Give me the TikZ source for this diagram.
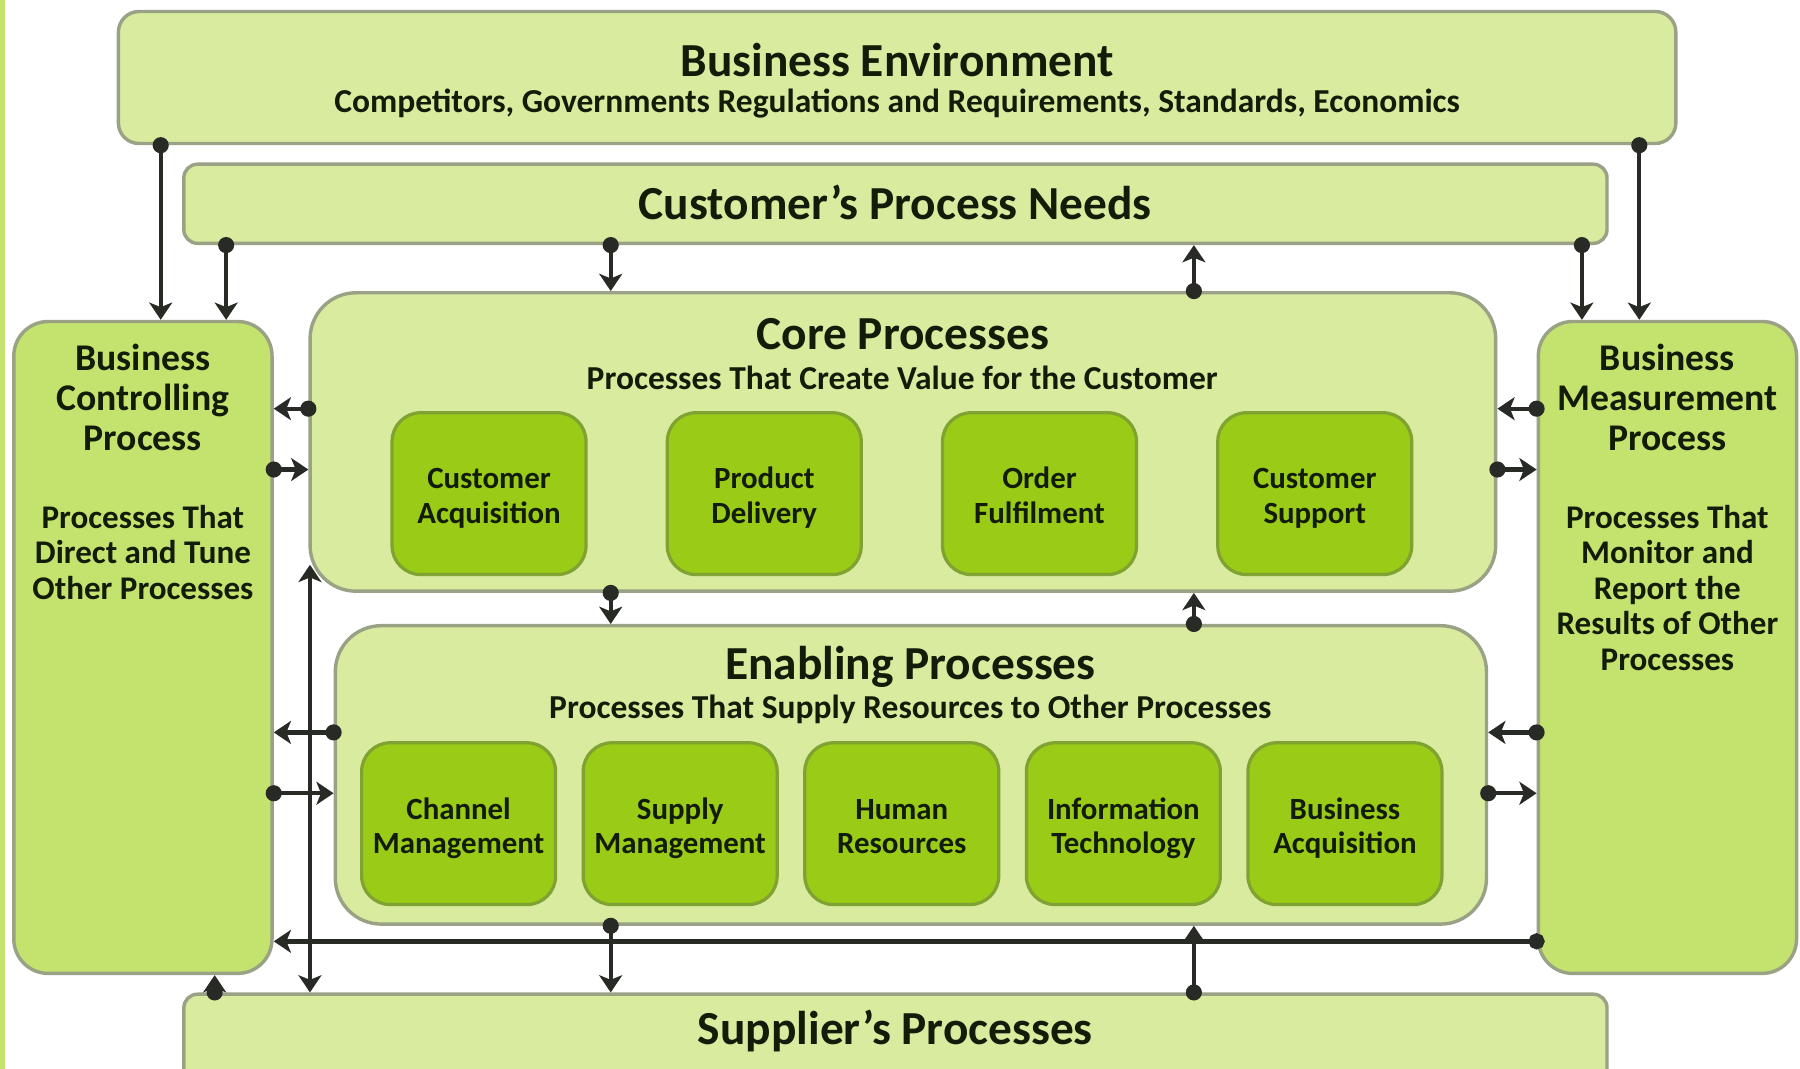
\documentclass[tikz,border=0pt]{standalone}
\usepackage{fontspec}
\setmainfont{Carlito}
\usepackage{tikz}
\usetikzlibrary{positioning,arrows.meta}
\definecolor{lightleaf}{RGB}{216,235,158}
\definecolor{sideleaf}{RGB}{196,227,110}
\definecolor{darkleaf}{RGB}{154,203,22}
\definecolor{leafrim}{RGB}{128,162,50}
\definecolor{greyrim}{RGB}{154,162,134}
\definecolor{wire}{RGB}{40,42,38}
\definecolor{ink}{RGB}{18,28,8}
\newcommand{\headfont}{\fontsize{23.5}{26}\selectfont\bfseries}
\newcommand{\subheadfont}{\fontsize{16.6}{18}\selectfont\bfseries}
\newcommand{\sidefont}{\fontsize{18.7}{19.8}\selectfont\bfseries}
\newcommand{\sidenotefont}{\fontsize{16.4}{17.6}\selectfont\bfseries}
\newcommand{\taskfont}{\fontsize{15.3}{17}\selectfont\bfseries}
\tikzset{outer box/.style={rectangle,rounded corners=0.8cm,fill=lightleaf,draw=greyrim,line width=1.7pt,inner sep=0pt},
  side box/.style={outer box,fill=sideleaf,rounded corners=0.6cm,minimum width=4.5cm,minimum height=11.36cm},
  task box/.style={rectangle,rounded corners=0.5cm,fill=darkleaf,draw=leafrim,line width=1.6pt,minimum width=3.38cm,minimum height=2.82cm,align=center,text=ink,font=\taskfont,execute at begin node={\rule{0pt}{35pt}},execute at end node={\rule[-5.6pt]{0pt}{5.6pt}}},
  head/.style={font=\headfont,text=ink,inner sep=0pt},
  subhead/.style={font=\subheadfont,text=ink,inner sep=0pt},
  side head/.style={font=\sidefont,text=ink,align=center,inner sep=0pt},
  side note/.style={font=\sidenotefont,text=ink,align=center,inner sep=0pt},
  link/.style={draw=wire,line width=2.1pt,arrows={Circle[length=0.28cm]-Stealth[length=0.3cm,width=0.4cm,inset=0.08cm]},shorten <=-0.14cm},
  both link/.style={draw=wire,line width=2.1pt,arrows={Stealth[length=0.3cm,width=0.4cm,inset=0.08cm]-Stealth[length=0.3cm,width=0.4cm,inset=0.08cm]}}}

\begin{document}
\begin{tikzpicture}[x=0.02cm,y=-0.02cm]
            \useasboundingbox (0,0) rectangle (1568,931);
            \clip (0,0) rectangle (1568,931);
            \fill[sideleaf] (0,0) rectangle (4,931);

            \node[outer box,rounded corners=0.36cm,minimum width=27.14cm,minimum height=2.3cm] (be) at (781.5,67.5) {};
            \node[outer box,rounded corners=0.24cm,minimum width=24.8cm,minimum height=1.38cm] (cpn) at (780,177.5) {};
            \node[outer box,minimum width=20.66cm,minimum height=5.2cm] (cp) at (786.5,385) {};
            \node[outer box,minimum width=20.06cm,minimum height=5.2cm] (ep) at (793.5,675) {};
            \node[outer box,rounded corners=0.24cm,minimum width=24.8cm,minimum height=2cm] (sp) at (780,916) {};
            \node[side box] (bcp) at (124.5,564) {};
            \node[side box] (bmp) at (1452.5,564) {};

            \node[head] (betitle) at (781.5,52) {Business Environment};
            \node[subhead] (betext) at (781.5,90) {Competitors, Governments Regulations and Requirements, Standards, Economics};
            \node[head] (cpntitle) at (780,176) {Customer’s Process Needs};
            \node[head] (cptitle) at (786.5,291) {Core Processes};
            \node[subhead] (cptext) at (786,329) {Processes That Create Value for the Customer};
            \node[head] (eptitle) at (793,581) {Enabling Processes};
            \node[subhead] (eptext) at (793,618) {Processes That Supply Resources to Other Processes};
            \node[head] (sptitle) at (780,898) {Supplier’s Processes};
            \node[side head] (bcptitle) at (124.5,346) {Business\\Controlling\\Process};
            \node[side note] (bcptext) at (124.5,481) {Processes That\\Direct and Tune\\Other Processes};
            \node[side head] (bmptitle) at (1452.5,346) {Business\\Measurement\\Process};
            \node[side note] (bmptext) at (1452.5,512) {Processes That\\Monitor and\\Report the\\Results of Other\\Processes};

            \node[task box] (ca) at (426,430) {Customer\\Acquisition};
            \node[task box] (pd) [right = 1.36cm of ca] {Product\\Delivery};
            \node[task box] (of) [right = 1.36cm of pd] {Order\\Fulfilment};
            \node[task box] (cs) [right = 1.36cm of of] {Customer\\Support};

            \node[task box] (cm) at (399.5,717.5) {Channel\\Management};
            \node[task box] (sm) [right = 0.425cm of cm] {Supply\\Management};
            \node[task box] (hr) [right = 0.425cm of sm] {Human\\Resources};
            \node[task box] (it) [right = 0.425cm of hr] {Information\\Technology};
            \node[task box] (ba) [right = 0.425cm of it] {Business\\Acquisition};

            \coordinate (envL) at (140,0);
            \coordinate (needL) at (197,0);
            \coordinate (envR) at (1428,0);
            \coordinate (needR) at (1378,0);
            \coordinate (down) at (532,0);
            \coordinate (up) at (1040,0);
            \coordinate (sup) at (187,0);
            \coordinate (railtop) at (270,492);
            \coordinate (r356) at (0,356);
            \coordinate (r409) at (0,409);
            \coordinate (r638) at (0,638);
            \coordinate (r691) at (0,691);
            \coordinate (r820) at (0,820);

            \draw[link] (envL |- be.south) -- (envL |- bcp.north);
            \draw[link] (needL |- cpn.south) -- (needL |- bcp.north);
            \draw[link] (envR |- be.south) -- (envR |- bmp.north);
            \draw[link] (needR |- cpn.south) -- (needR |- bmp.north);

            \draw[link] (down |- cpn.south) -- (down |- cp.north);
            \draw[link] (up |- cp.north) -- (up |- cpn.south);
            \draw[link] (down |- cp.south) -- (down |- ep.north);
            \draw[link] (up |- ep.north) -- (up |- cp.south);
            \draw[link] (down |- ep.south) -- (down |- sp.north);
            \draw[link] (up |- sp.north) -- (up |- ep.south);

            \draw[link] (r356 -| cp.west) -- (r356 -| bcp.east);
            \draw[link] (r409 -| bcp.east) -- (r409 -| cp.west);
            \draw[link] (r638 -| ep.west) -- (r638 -| bcp.east);
            \draw[link] (r691 -| bcp.east) -- (r691 -| ep.west);
            \draw[link] (r356 -| bmp.west) -- (r356 -| cp.east);
            \draw[link] (r409 -| cp.east) -- (r409 -| bmp.west);
            \draw[link] (r638 -| bmp.west) -- (r638 -| ep.east);
            \draw[link] (r691 -| ep.east) -- (r691 -| bmp.west);

            \draw[link,line width=2.8pt] (r820 -| bmp.west) -- (r820 -| bcp.east);
            \draw[both link] (railtop |- sp.north) -- (railtop);
            \draw[link] (sup |- sp.north) -- (sup |- bcp.south);
        \end{tikzpicture}
\end{document}
